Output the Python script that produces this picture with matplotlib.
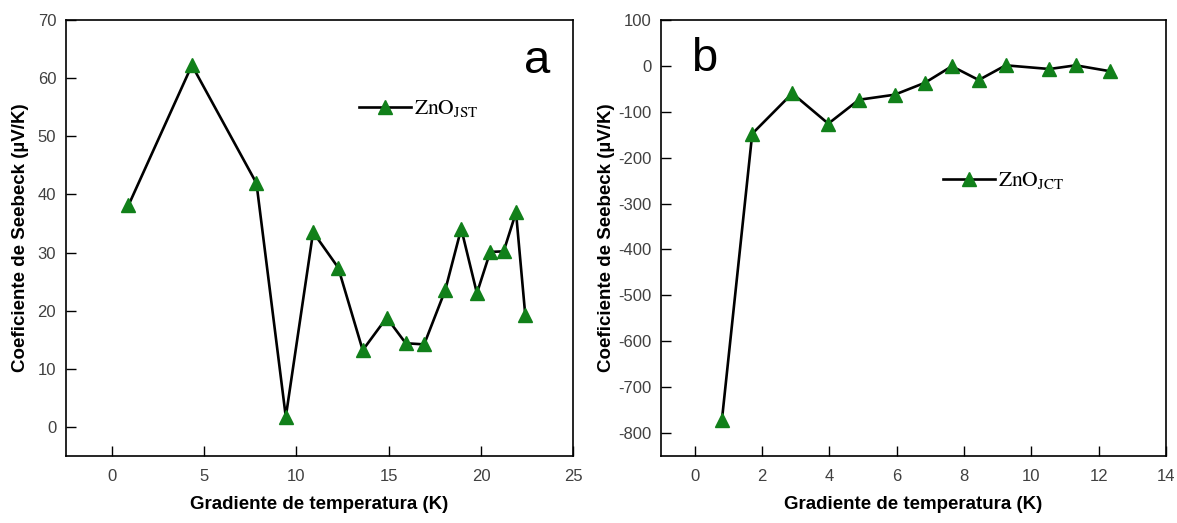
import matplotlib
matplotlib.use('Agg')
import matplotlib.pyplot as plt

# Datos
grad_jst = [0.89, 4.33, 7.83, 9.42, 10.9, 12.26, 13.59, 14.89, 15.92, 16.92,
            18.06, 18.93, 19.78, 20.5, 21.23, 21.9, 22.4]
seebeck_jst = [38.1, 62.2, 41.9, 1.75, 33.5, 27.4, 13.2, 18.8, 14.4, 14.2,
               23.5, 34.1, 23.0, 30.1, 30.2, 36.9, 19.3]

grad_jct = [0.81, 1.71, 2.90, 3.97, 4.88, 5.94, 6.84, 7.64, 8.44, 9.24,
            10.54, 11.32, 12.35]
seebeck_jct = [-771, -148, -60, -126, -74, -63, -37, -1, -31, 1, -7, 1, -12]

plt.rcParams['font.family'] = ['Liberation Sans', 'DejaVu Sans']
plt.rcParams['mathtext.fontset'] = 'stix'
plt.rcParams['axes.unicode_minus'] = False

fig = plt.figure(figsize=(11.77, 5.23), dpi=100)
ax1 = fig.add_axes([0.056, 0.128, 0.431, 0.834])
ax2 = fig.add_axes([0.5616, 0.128, 0.429, 0.834])

label_font = dict(fontsize=13.5, fontweight='bold')
verde = '#11801a'

# Panel a
ax1.plot(grad_jst, seebeck_jst, color='black', lw=1.9, marker='^', markersize=9.5,
         markerfacecolor=verde, markeredgecolor=verde, label=r'$\mathrm{ZnO_{JST}}$')
ax1.set_xlim(-2.5, 25)
ax1.set_ylim(-5, 70)
ax1.set_xticks([0, 5, 10, 15, 20, 25])
ax1.set_yticks([0, 10, 20, 30, 40, 50, 60, 70])
ax1.set_xlabel('Gradiente de temperatura (K)', labelpad=9, **label_font)
ax1.set_ylabel('Coeficiente de Seebeck (µV/K)', labelpad=6, **label_font)
ax1.text(0.955, 0.905, 'a', transform=ax1.transAxes, fontsize=34, ha='right', va='center')
ax1.legend(loc='upper left', bbox_to_anchor=(0.54, 0.865), frameon=False, fontsize=15.5,
           handlelength=2.4, handletextpad=0.15)

# Panel b
ax2.plot(grad_jct, seebeck_jct, color='black', lw=1.9, marker='^', markersize=9.5,
         markerfacecolor=verde, markeredgecolor=verde, label=r'$\mathrm{ZnO_{JCT}}$')
ax2.set_xlim(-1, 14)
ax2.set_ylim(-850, 100)
ax2.set_xticks(range(0, 15, 2))
ax2.set_yticks(range(-800, 101, 100))
ax2.set_xlabel('Gradiente de temperatura (K)', labelpad=9, **label_font)
ax2.set_ylabel('Coeficiente de Seebeck (µV/K)', labelpad=2, **label_font)
ax2.text(0.06, 0.91, 'b', transform=ax2.transAxes, fontsize=34, ha='left', va='center')
ax2.legend(loc='upper left', bbox_to_anchor=(0.52, 0.70), frameon=False, fontsize=15.5,
           handlelength=2.4, handletextpad=0.15)

for ax in (ax1, ax2):
    ax.tick_params(direction='in', length=7, width=1, labelsize=12, labelcolor='#404040',
                   top=False, right=False)
    ax.tick_params(axis='x', pad=9)
    ax.tick_params(axis='y', pad=7)
    for sp in ax.spines.values():
        sp.set_linewidth(1.2)

fig.savefig('out.png', dpi=100)
